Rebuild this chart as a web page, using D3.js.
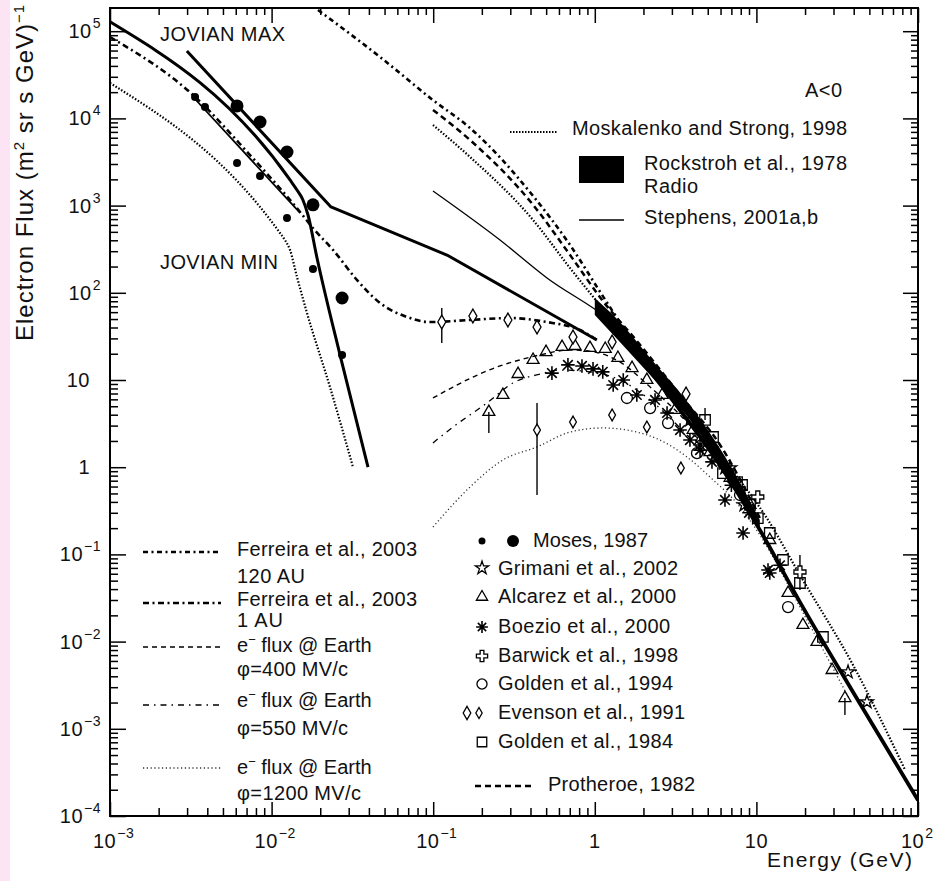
<!DOCTYPE html>
<html>
<head>
<meta charset="utf-8">
<script src="https://cdn.jsdelivr.net/npm/d3@7"></script>
<style>
  body { margin: 0; background: #fff; }
  svg { display: block; }
  text { font-family: "Liberation Sans", Arial, Helvetica, sans-serif; fill: #111; }
</style>
</head>
<body>
<svg id="chart" width="939" height="881"></svg>
<script>
// ---------------------------------------------------------------
// Electron spectrum: energy (GeV) vs flux (m^2 sr s GeV)^-1
// ---------------------------------------------------------------

// Axis ticks
const X_TICKS = [1e-3, 1e-2, 1e-1, 1, 10, 100];
const X_TICK_LABELS = [["10", "−3"], ["10", "−2"], ["10", "−1"], ["1", ""], ["10", ""], ["10", "2"]];
const Y_TICKS = [1e-4, 1e-3, 1e-2, 1e-1, 1, 10, 1e2, 1e3, 1e4, 1e5];
const Y_TICK_LABELS = [["10", "−4"], ["10", "−3"], ["10", "−2"], ["10", "−1"], ["1", ""], ["10", ""], ["10", "2"], ["10", "3"], ["10", "4"], ["10", "5"]];

// Model curves  [energy GeV, flux]
const JOVIAN_MIN = [[0.001, 1.28e5], [0.0130, 1970], [0.01436, 1510], [0.01563, 1160], [0.0168, 780], [0.0191, 251], [0.0265, 19.4], [0.0395, 1.0]];
const JOVIAN_MAX = [[0.00299, 5.93e4], [0.0233, 964], [0.1216, 271], [1.03, 28.8]];
const GALACTIC = [[1.03, 67], [1.43, 34.6], [2.10, 14.1], [3.37, 4.53], [5.39, 1.38], [10.5, 0.191], [18.6, 0.0284], [39.6, 0.00264], [100, 1.52e-4]];
const STEPHENS_HI = [[0.0997, 1470], [0.259, 403], [0.506, 148], [1.19, 51.4], [1.54, 34.6]];
const STEPHENS_LO = [[0.00327, 1.76e4], [0.0150, 823]];
const FERREIRA_120AU = [[0.01937, 1.75e5], [0.0469, 5.06e4], [0.0997, 1.62e4], [0.169, 7.76e3], [0.415, 1.29e3], [0.703, 353], [1.08, 102], [1.54, 37.4], [3.37, 5.6], [5.96, 1.57]];
const FERREIRA_1AU = [[0.001, 8.57e4], [0.00327, 1.85e4], [0.00735, 3.80e3], [0.0150, 845], [0.0180, 553], [0.0240, 310], [0.0338, 140], [0.0469, 76.3], [0.0689, 52.8], [0.0955, 46.2], [0.169, 48.8], [0.298, 51.4], [0.506, 46.2], [0.809, 37.4], [1.03, 28.8]];
const MOSKALENKO_LOW = [[0.001, 2.55e4], [0.01127, 485], [0.0121, 403], [0.0130, 310], [0.01436, 152], [0.01656, 58.6], [0.02297, 8.31], [0.0319, 1.0]];
const MOSKALENKO_HIGH = [[0.0997, 8.40e3], [0.169, 3.61e3], [0.415, 684], [0.703, 192], [1.14, 63.5], [1.91, 20.9], [3.37, 5.45], [5.96, 1.38], [11.6, 0.261], [18.6, 0.058], [39.6, 0.0054], [83.2, 3.37e-4]];
const PROTHEROE = [[0.0997, 1.25e4], [0.169, 5.65e3], [0.415, 1.02e3], [0.703, 271], [1.11, 82.6], [1.91, 25.2], [3.37, 6.73], [5.96, 1.80], [10.5, 0.261]];
const PHI_400 = [[0.0997, 6.22], [0.1327, 8.31], [0.176, 10.8], [0.259, 14.5], [0.344, 17.0], [0.458, 19.4], [0.703, 22.1], [1.00, 20.9], [1.43, 16.1], [2.20, 8.31], [3.37, 3.97], [5.96, 1.21]];
const PHI_550 = [[0.0997, 1.90], [0.1327, 2.89], [0.215, 5.45], [0.312, 9.25], [0.458, 11.7], [0.609, 13.0], [0.934, 12.4], [1.43, 10.0], [2.20, 5.90], [3.37, 2.82], [5.96, 0.929]];
const PHI_1200 = [[0.0997, 0.206], [0.169, 0.593], [0.270, 1.21], [0.439, 1.71], [0.703, 2.53], [1.12, 2.82], [1.82, 2.53], [2.53, 2.05], [3.72, 1.31], [5.16, 0.772], [7.92, 0.350], [10.5, 0.167], [18.6, 0.0249], [37.9, 0.00214]];
// Radio-derived band (outline, upper edge then lower edge)
const ROCKSTROH = [[1.00, 87.2], [1.43, 46.2], [2.20, 17.9], [3.88, 5.16], [6.87, 1.06], [10.5, 0.248], [10.5, 0.181], [6.87, 0.714], [3.88, 3.48], [2.20, 11.4], [1.43, 27.3], [1.00, 55.6]];

// Measurements  [energy GeV, flux]
const MOSES_SMALL = [[3.36e-3, 1.76e4], [3.87e-3, 1.35e4], [6.11e-3, 3.08e3], [8.48e-3, 2.18e3], [0.01245, 721], [0.01803, 187], [0.0273, 19.4]];
const MOSES_LARGE = [[6.11e-3, 1.39e4], [8.48e-3, 9.09e3], [0.01245, 4.12e3], [0.01803, 1.02e3], [0.0273, 87.2]];
const EVENSON_HIGH = [[0.113, 46.2], [0.176, 54.2], [0.290, 48.8], [0.439, 40.5], [0.733, 31.1], [1.28, 27.3], [3.67, 6.91]];
const EVENSON_LOW = [[0.439, 2.67], [0.733, 3.30], [1.28, 3.97], [2.10, 2.89], [3.41, 0.98]];
const ALCAREZ = [[0.221, 4.30], [0.270, 6.73], [0.335, 11.7], [0.415, 17.0], [0.499, 20.9], [0.627, 23.9], [0.754, 24.5], [0.934, 23.3], [1.16, 22.7], [1.39, 17.9], [1.70, 13.7], [2.10, 10.0], [2.61, 6.73], [3.13, 4.53], [4.06, 2.67], [5.16, 1.49], [6.87, 0.752], [9.13, 0.369], [12.1, 0.146], [15.7, 0.0361], [19.4, 0.0155], [23.7, 0.00989], [29.4, 0.00472], [35.3, 0.00225]];
const BOEZIO = [[0.543, 12.0], [0.682, 14.9], [0.833, 14.5], [0.975, 13.4], [1.12, 12.4], [1.30, 8.76], [1.50, 10.0], [1.82, 6.73], [2.36, 5.90], [2.80, 4.19], [3.37, 2.67], [3.88, 2.05], [4.48, 1.57], [4.48, 1.80], [5.31, 1.15], [5.55, 1.38], [6.39, 0.421], [7.0, 0.62], [8.27, 0.176], [9.0, 0.30], [11.8, 0.0663], [12.1, 0.0612], [14.0, 0.075]];
const GRIMANI = [[3.88, 3.48], [4.48, 2.22], [6.39, 0.98], [6.87, 0.98], [8.40, 0.369], [36.9, 0.00448], [48.3, 0.00203]];
const BARWICK = [[10.2, 0.455], [18.6, 0.0628]];
const GOLDEN_1994 = [[1.58, 6.22], [2.20, 4.77], [2.84, 3.21], [4.29, 1.45], [7.92, 0.480], [15.7, 0.0249]];
const GOLDEN_1984 = [[4.81, 3.48], [5.39, 2.22], [6.21, 0.857], [7.59, 0.676], [8.15, 0.625], [9.13, 0.369], [10.2, 0.261], [12.1, 0.176], [14.6, 0.0863], [18.6, 0.047], [25.8, 0.0113]];
// Error bars  [energy GeV, low flux, high flux]
const ERR_BARS = [[0.113, 26.6, 67.0], [0.439, 0.48, 5.45], [0.221, 2.47, 4.30], [35.3, 0.00144, 0.00225], [4.81, 3.48, 4.77], [18.6, 0.0391, 0.0984]];

// ---------------------------------------------------------------
const svg = d3.select("#chart");
const W = 939, H = 881;
const L = 110, R = 918, T = 8, B = 816;

const x = d3.scaleLog().domain([1e-3, 1e2]).range([L, R]);
const y = d3.scaleLog().domain([1e-4, 1e5]).range([B, 31.2]);

svg.append("rect").attr("width", W).attr("height", H).attr("fill", "#fff");
svg.append("rect").attr("x", 0).attr("y", 0).attr("width", 10).attr("height", H).attr("fill", "#fde4f4");

// minor tick positions: 2..9 within each decade
function minorTicks(lo, hi, keep) {
  const out = [];
  for (let d = lo; d <= hi; d++) for (let k = 2; k <= 9; k++) {
    const v = k * Math.pow(10, d);
    if (keep(v)) out.push(v);
  }
  return out;
}
const xMinor = minorTicks(-3, 1, v => v < 100);
const yMinor = minorTicks(-4, 5, v => y(v) >= T + 1);

function tickLayer(axis, transform) {
  svg.append("g").attr("transform", transform).call(axis)
    .call(g => g.select(".domain").remove())
    .call(g => g.selectAll(".tick line").attr("stroke", "#000").attr("stroke-width", 1.5));
}
tickLayer(d3.axisLeft(y).tickValues(Y_TICKS).tickSize(-16).tickFormat(""), `translate(${L},0)`);
tickLayer(d3.axisLeft(y).tickValues(yMinor).tickSize(-8).tickFormat(""), `translate(${L},0)`);
tickLayer(d3.axisRight(y).tickValues(Y_TICKS).tickSize(-15).tickFormat(""), `translate(${R},0)`);
tickLayer(d3.axisRight(y).tickValues(yMinor).tickSize(-7).tickFormat(""), `translate(${R},0)`);
tickLayer(d3.axisBottom(x).tickValues(X_TICKS).tickSize(-14).tickFormat(""), `translate(0,${B})`);
tickLayer(d3.axisBottom(x).tickValues(xMinor).tickSize(-8).tickFormat(""), `translate(0,${B})`);
tickLayer(d3.axisTop(x).tickValues(X_TICKS).tickSize(-15).tickFormat(""), `translate(0,${T})`);
tickLayer(d3.axisTop(x).tickValues(xMinor).tickSize(-7).tickFormat(""), `translate(0,${T})`);

svg.append("rect").attr("x", L).attr("y", T).attr("width", R - L).attr("height", B - T)
  .attr("fill", "none").attr("stroke", "#000").attr("stroke-width", 2);

// tick labels with superscript exponents
function powerLabel(px, py, base, exp, anchor) {
  const t = svg.append("text").attr("x", px).attr("y", py).attr("text-anchor", anchor)
    .attr("font-size", 20).attr("letter-spacing", 0.5);
  t.append("tspan").text(base);
  if (exp) t.append("tspan").attr("dy", -10).attr("dx", 1).attr("font-size", 14).text(exp);
}
Y_TICKS.forEach((v, i) => {
  const [base, exp] = Y_TICK_LABELS[i];
  powerLabel(exp ? 101 : 90, y(v) + 7, base, exp, "end");
});
X_TICKS.forEach((v, i) => {
  const [base, exp] = X_TICK_LABELS[i];
  if (exp) powerLabel(x(v) - 17, 848, base, exp, "start");
  else powerLabel(x(v), 848, base, exp, "middle");
});

// axis titles
const yTitle = svg.append("text").attr("transform", "translate(33,341) rotate(-90)")
  .attr("font-size", 24).attr("letter-spacing", 1).attr("fill", "#222");
yTitle.append("tspan").text("Electron Flux (m");
yTitle.append("tspan").attr("dy", -9).attr("font-size", 15).text("2");
yTitle.append("tspan").attr("dy", 9).text(" sr s GeV)");
yTitle.append("tspan").attr("dy", -9).attr("font-size", 15).text("−1");

svg.append("text").attr("x", 767).attr("y", 867).attr("font-size", 21).attr("letter-spacing", 1.5)
  .attr("fill", "#222").text("Energy (GeV)");

// ---------------------------------------------------------------
// plot area
svg.append("clipPath").attr("id", "plotClip").append("rect")
  .attr("x", L).attr("y", T).attr("width", R - L).attr("height", B - T);
const plot = svg.append("g").attr("clip-path", "url(#plotClip)");

const straight = d3.line().x(d => x(d[0])).y(d => y(d[1]));
const smooth = d3.line().curve(d3.curveMonotoneX).x(d => x(d[0])).y(d => y(d[1]));

function curve(data, gen, w, dash, color, cap) {
  plot.append("path").datum(data).attr("d", gen)
    .attr("fill", "none").attr("stroke", color || "#000").attr("stroke-width", w)
    .attr("stroke-dasharray", dash || null).attr("stroke-linecap", cap || "butt")
    .attr("stroke-linejoin", "round");
}

const STYLE = {
  f120: { w: 2.6, dash: "5,3.5,2,3.5" },
  f1: { w: 2.6, dash: "6,3.5,2,3.5" },
  mosk: { w: 2.2, dash: "1.5,1.8" },
  proth: { w: 2.5, dash: "6,4" },
  phi400: { w: 1.4, dash: "5,4" },
  phi550: { w: 1.3, dash: "6,5,1.5,5" },
  phi1200: { w: 1.3, dash: "1.2,2.6" }
};

// radio band
plot.append("path").datum(ROCKSTROH)
  .attr("d", d => smooth(d.slice(0, 6)) + "L" + smooth(d.slice(6)).slice(1) + "Z").attr("fill", "#000");

curve(PHI_1200, smooth, STYLE.phi1200.w, STYLE.phi1200.dash, "#333");
curve(PHI_550, smooth, STYLE.phi550.w, STYLE.phi550.dash);
curve(PHI_400, smooth, STYLE.phi400.w, STYLE.phi400.dash);
curve(MOSKALENKO_LOW, smooth, STYLE.mosk.w, STYLE.mosk.dash);
curve(MOSKALENKO_HIGH, smooth, STYLE.mosk.w, STYLE.mosk.dash);
curve(PROTHEROE, smooth, STYLE.proth.w, STYLE.proth.dash);
curve(FERREIRA_120AU, smooth, STYLE.f120.w, STYLE.f120.dash);
curve(FERREIRA_1AU, smooth, STYLE.f1.w, STYLE.f1.dash);
curve(STEPHENS_HI, smooth, 1.3);
curve(STEPHENS_LO, straight, 1.8);
curve(JOVIAN_MIN, smooth, 3);
curve(JOVIAN_MAX, straight, 3);
curve(GALACTIC, smooth, 3.8);

// error bars
plot.selectAll("line.err").data(ERR_BARS).join("line").attr("class", "err")
  .attr("x1", d => x(d[0])).attr("x2", d => x(d[0]))
  .attr("y1", d => y(d[1])).attr("y2", d => y(d[2]))
  .attr("stroke", "#000").attr("stroke-width", 1.4);

// symbols
const asterisk = {
  draw(ctx, size) {
    const r = Math.sqrt(size) * 0.62;
    for (let k = 0; k < 4; k++) {
      const a = k * Math.PI / 4;
      ctx.moveTo(r * Math.cos(a), r * Math.sin(a));
      ctx.lineTo(-r * Math.cos(a), -r * Math.sin(a));
    }
  }
};
function symbols(layer, data, type, size, fill, sw) {
  layer.append("g").selectAll("path").data(data).join("path")
    .attr("transform", d => `translate(${x(d[0])},${y(d[1])})`)
    .attr("d", d3.symbol().type(type).size(size))
    .attr("fill", fill || "none").attr("stroke", "#000").attr("stroke-width", sw || 1.3);
}
symbols(plot, GOLDEN_1984, d3.symbolSquare, 110);
symbols(plot, GOLDEN_1994, d3.symbolCircle, 95);
symbols(plot, ALCAREZ, d3.symbolTriangle, 62);
symbols(plot, BOEZIO, asterisk, 120, "none", 1.6);
symbols(plot, GRIMANI, d3.symbolStar, 55);
symbols(plot, BARWICK, d3.symbolCross, 80, "#fff");
symbols(plot, EVENSON_HIGH, d3.symbolDiamond, 55, "#fff");
symbols(plot, EVENSON_LOW, d3.symbolDiamond, 40, "#fff");

plot.append("g").selectAll("circle").data(MOSES_LARGE).join("circle")
  .attr("cx", d => x(d[0])).attr("cy", d => y(d[1])).attr("r", 6.5).attr("fill", "#000");
plot.append("g").selectAll("circle").data(MOSES_SMALL).join("circle")
  .attr("cx", d => x(d[0])).attr("cy", d => y(d[1])).attr("r", 4).attr("fill", "#000");

// ---------------------------------------------------------------
// annotations
function label(px, py, str, size, len) {
  const t = svg.append("text").attr("x", px).attr("y", py).attr("font-size", size).text(str);
  if (len) t.attr("textLength", len).attr("lengthAdjust", "spacing");
  return t;
}
label(160, 41, "JOVIAN MAX", 20, 125);
label(160, 269, "JOVIAN MIN", 20, 118);

// upper-right legend
label(805, 97, "A<0", 20, 37);
svg.append("line").attr("x1", 510).attr("x2", 557).attr("y1", 132).attr("y2", 132)
  .attr("stroke", "#000").attr("stroke-width", 2).attr("stroke-dasharray", "1.5,1.5");
label(572, 135, "Moskalenko and Strong, 1998", 20, 275);
svg.append("rect").attr("x", 579).attr("y", 156).attr("width", 45).attr("height", 27).attr("fill", "#000");
label(644, 170, "Rockstroh et al., 1978", 20, 203);
label(644, 193, "Radio", 20, 54);
svg.append("line").attr("x1", 579).attr("x2", 624).attr("y1", 220).attr("y2", 220)
  .attr("stroke", "#000").attr("stroke-width", 1.3);
label(644, 224, "Stephens, 2001a,b", 20, 174);

// lower-left legend
function sampleLine(py, st, color) {
  svg.append("line").attr("x1", 143).attr("x2", 221).attr("y1", py).attr("y2", py)
    .attr("stroke", color || "#000").attr("stroke-width", st.w).attr("stroke-dasharray", st.dash);
}
sampleLine(552, STYLE.f120);
label(237, 556, "Ferreira et al., 2003", 20, 180);
label(237, 583, "120 AU", 20, 68);
sampleLine(603, STYLE.f1);
label(237, 606, "Ferreira et al., 2003", 20, 180);
label(237, 627, "1 AU", 20, 46);

function earthLabel(py) {
  const t = svg.append("text").attr("x", 237).attr("y", py).attr("font-size", 20);
  t.append("tspan").text("e");
  t.append("tspan").attr("dy", -8).attr("font-size", 13).text("−");
  t.append("tspan").attr("dy", 8).text(" flux @ Earth");
}
sampleLine(647, STYLE.phi400);
earthLabel(652);
label(237, 676, "φ=400 MV/c", 20, 111);
sampleLine(705, STYLE.phi550);
earthLabel(707);
label(237, 735, "φ=550 MV/c", 20, 111);
sampleLine(768, STYLE.phi1200, "#333");
earthLabel(774);
label(237, 800, "φ=1200 MV/c", 20, 124);

// lower-middle legend
const legendMid = svg.append("g");
legendMid.append("circle").attr("cx", 482).attr("cy", 541).attr("r", 3.5).attr("fill", "#000");
legendMid.append("circle").attr("cx", 513).attr("cy", 541).attr("r", 6).attr("fill", "#000");
label(533, 547, "Moses, 1987", 20, 115);
function legendSymbol(px, py, type, size, fill, sw) {
  legendMid.append("path").attr("transform", `translate(${px},${py})`)
    .attr("d", d3.symbol().type(type).size(size))
    .attr("fill", fill || "none").attr("stroke", "#000").attr("stroke-width", sw || 1.3);
}
legendSymbol(482, 568, d3.symbolStar, 55);
label(498, 575, "Grimani et al., 2002", 20, 180);
legendSymbol(482, 597, d3.symbolTriangle, 55);
label(498, 603, "Alcarez et al., 2000", 20, 178);
legendSymbol(482, 627, asterisk, 90, "none", 1.6);
label(498, 633, "Boezio et al., 2000", 20, 172);
legendSymbol(482, 656, d3.symbolCross, 70);
label(498, 662, "Barwick et al., 1998", 20, 180);
legendSymbol(482, 684, d3.symbolCircle, 80);
label(498, 690, "Golden et al., 1994", 20, 175);
legendSymbol(467, 713, d3.symbolDiamond, 50);
legendSymbol(479, 713, d3.symbolDiamond, 35);
label(498, 719, "Evenson et al., 1991", 20, 187);
legendSymbol(482, 742, d3.symbolSquare, 90);
label(498, 748, "Golden et al., 1984", 20, 175);
svg.append("line").attr("x1", 475).attr("x2", 535).attr("y1", 786).attr("y2", 786)
  .attr("stroke", "#000").attr("stroke-width", STYLE.proth.w).attr("stroke-dasharray", STYLE.proth.dash);
label(548, 791, "Protheroe, 1982", 20, 147);
</script>
</body>
</html>
